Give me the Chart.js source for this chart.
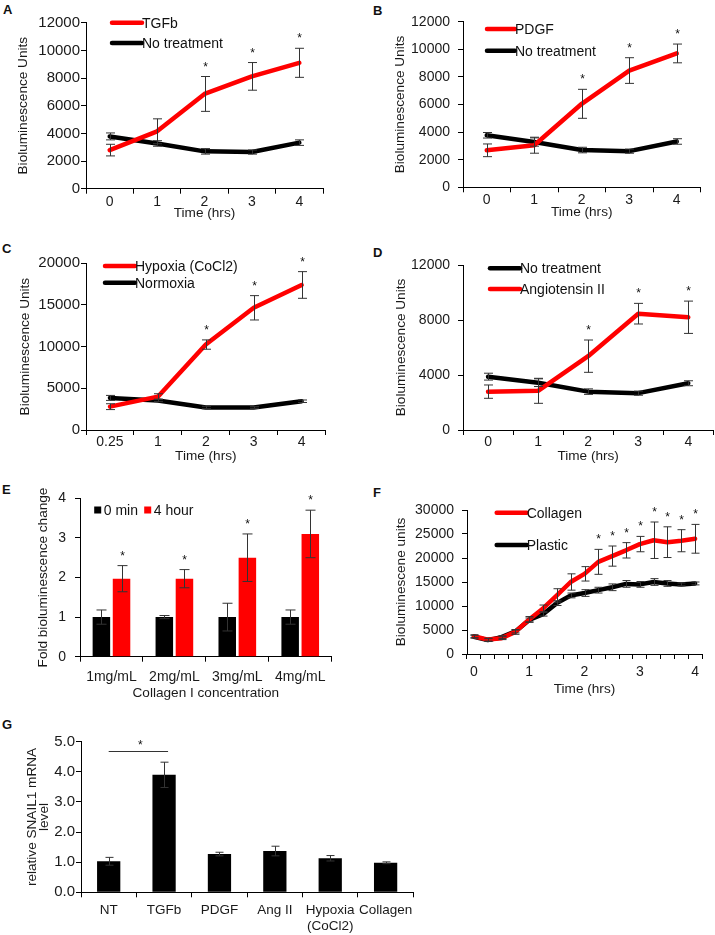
<!DOCTYPE html>
<html>
<head>
<meta charset="utf-8">
<script src="https://cdn.jsdelivr.net/npm/chart.js@4.4.1/dist/chart.umd.min.js"></script>
<style>
  body { margin: 0; background: #fff; }
  #fig { position: relative; width: 715px; height: 935px; overflow: hidden; font-family: "Liberation Sans", Arial, sans-serif; }
  canvas { position: absolute; }
  .tag { position: absolute; font-weight: bold; font-size: 13px; line-height: 13px; color: #111; }
</style>
</head>
<body>
<div id="fig">
  <div class="tag" style="left:3px;top:3px">A</div>
  <div class="tag" style="left:373px;top:4px">B</div>
  <div class="tag" style="left:2px;top:242px">C</div>
  <div class="tag" style="left:373px;top:246px">D</div>
  <div class="tag" style="left:2px;top:483px">E</div>
  <div class="tag" style="left:373px;top:486px">F</div>
  <div class="tag" style="left:2px;top:718px">G</div>
  <canvas id="chartA" width="335" height="225" style="left:0;top:0"></canvas>
  <canvas id="chartB" width="360" height="225" style="left:355px;top:0"></canvas>
  <canvas id="chartC" width="335" height="225" style="left:0;top:240px"></canvas>
  <canvas id="chartD" width="360" height="225" style="left:355px;top:240px"></canvas>
  <canvas id="chartE" width="345" height="225" style="left:0;top:480px"></canvas>
  <canvas id="chartF" width="360" height="225" style="left:355px;top:480px"></canvas>
  <canvas id="chartG" width="450" height="210" style="left:0;top:725px"></canvas>
</div>
<script>
// A - TGFb
const hoursA = ['0', '1', '2', '3', '4'];
const tgfbMean = [2790, 4150, 6850, 8120, 9100];
const tgfbSem = [420, 900, 1260, 1000, 1050];
const tgfbStar = [0, 0, 1, 1, 1];
const ctrlAMean = [3780, 3270, 2700, 2650, 3330];
const ctrlASem = [250, 200, 200, 150, 200];

// B - PDGF
const pdgfMean = [2680, 3050, 6050, 8460, 9700];
const pdgfSem = [460, 580, 1050, 930, 680];
const pdgfStar = [0, 0, 1, 1, 1];
const ctrlBMean = [3770, 3280, 2700, 2620, 3320];
const ctrlBSem = [200, 300, 200, 150, 200];

// C - hypoxia
const hoursC = ['0.25', '1', '2', '3', '4'];
const hypoxiaMean = [2800, 4000, 10250, 14660, 17400];
const hypoxiaSem = [350, 350, 560, 1460, 1600];
const hypoxiaStar = [0, 0, 1, 1, 1];
const normoxiaMean = [3850, 3550, 2700, 2700, 3450];
const normoxiaSem = [300, 150, 150, 100, 150];

// D - angiotensin
const angMean = [2790, 2850, 5370, 8460, 8200];
const angSem = [485, 910, 1175, 750, 1175];
const angStar = [0, 0, 1, 1, 1];
const ctrlDMean = [3880, 3440, 2790, 2680, 3400];
const ctrlDSem = [250, 280, 200, 150, 180];

// E - collagen concentration
const collagenConc = ['1mg/mL', '2mg/mL', '3mg/mL', '4mg/mL'];
const foldZero = [1, 1, 1, 1];
const foldZeroSem = [0.18, 0.04, 0.35, 0.18];
const foldFour = [1.97, 1.97, 2.5, 3.1];
const foldFourSem = [0.33, 0.23, 0.6, 0.6];
const foldFourStar = [1, 1, 1, 1];

// F - collagen vs plastic
const hoursF = ['0', '0.25', '0.5', '0.75', '1', '1.25', '1.5', '1.75', '2',
  '2.25', '2.5', '2.75', '3', '3.25', '3.5', '3.75', '4'];
const collagenMean = [3700, 3000, 3300, 4600, 7200, 9500, 12200, 15000, 16700,
  19200, 20400, 21600, 22900, 23700, 23300, 23600, 24000];
const collagenSem = [300, 300, 300, 500, 600, 700, 1400, 1700, 1500,
  2600, 2100, 1600, 1600, 3800, 3200, 2300, 3000];
const collagenStar = [0, 0, 0, 0, 0, 0, 0, 0, 0, 1, 1, 1, 1, 1, 1, 1, 1];
const plasticMean = [3600, 2900, 3500, 4700, 7100, 8300, 10600, 12200, 12700,
  13300, 13900, 14600, 14500, 15000, 14700, 14500, 14700];
const plasticSem = [300, 300, 300, 300, 400, 400, 500, 500, 700,
  600, 700, 700, 600, 700, 600, 300, 300];

// G - SNAIL1 mRNA
const treatments = ['NT', 'TGFb', 'PDGF', 'Ang II', ['Hypoxia', '(CoCl2)'], 'Collagen'];
const snailMean = [1.03, 3.9, 1.27, 1.37, 1.13, 0.98];
const snailSem = [0.13, 0.42, 0.06, 0.16, 0.09, 0.03];

const RED = '#ff0000';
const BLACK = '#000000';
const FONT = '"Liberation Sans", Arial, sans-serif';

Chart.defaults.font.family = FONT;
Chart.defaults.color = '#1a1a1a';

const legendPlugin = {
  id: 'panelLegend',
  afterDraw(chart, args, opts) {
    const ctx = chart.ctx, area = chart.chartArea;
    ctx.save();
    ctx.font = '14px ' + FONT;
    ctx.textBaseline = 'middle';
    opts.rows.forEach(row => {
      const ds = chart.data.datasets[row.index];
      const x = area.left + row.x, y = area.top + row.y;
      let textX;
      if (opts.box) {
        ctx.fillStyle = ds.backgroundColor;
        ctx.fillRect(x - 3.5, y - 3.5, 7, 7);
        textX = x + 6;
      } else {
        ctx.strokeStyle = ds.borderColor;
        ctx.lineWidth = 4.5;
        ctx.lineCap = 'round';
        ctx.beginPath();
        ctx.moveTo(x, y);
        ctx.lineTo(x + opts.len, y);
        ctx.stroke();
        textX = x + opts.len;
      }
      ctx.fillStyle = '#111';
      ctx.fillText(ds.label, textX, y + 1);
    });
    ctx.restore();
  }
};

const errorBarPlugin = {
  id: 'errorBars',
  afterDatasetsDraw(chart, args, opts) {
    const ctx = chart.ctx, yScale = chart.scales.y;
    const cap = opts.cap || 4.5;
    chart.data.datasets.forEach((ds, di) => {
      if (!ds.errors) return;
      const meta = chart.getDatasetMeta(di);
      ctx.save();
      ctx.strokeStyle = '#333';
      ctx.lineWidth = 1;
      ctx.fillStyle = '#111';
      ctx.font = '12px ' + FONT;
      ctx.textAlign = 'center';
      meta.data.forEach((el, i) => {
        const v = ds.data[i], e = ds.errors[i];
        const x = Math.round(el.x) + 0.5;
        const top = yScale.getPixelForValue(v + e);
        const bot = yScale.getPixelForValue(v - e);
        ctx.beginPath();
        ctx.moveTo(x, top); ctx.lineTo(x, bot);
        ctx.moveTo(x - cap, top); ctx.lineTo(x + cap, top);
        ctx.moveTo(x - cap, bot); ctx.lineTo(x + cap, bot);
        ctx.stroke();
        if (ds.stars && ds.stars[i]) {
          ctx.fillText('*', x, top - 6);
        }
      });
      ctx.restore();
    });
  }
};

const sigPlugin = {
  id: 'sigBar',
  afterDatasetsDraw(chart, args, opts) {
    const ctx = chart.ctx, meta = chart.getDatasetMeta(0), yScale = chart.scales.y;
    const x1 = meta.data[opts.from].x, x2 = meta.data[opts.to].x + 4;
    const y = Math.round(yScale.getPixelForValue(opts.value)) + 0.5;
    ctx.save();
    ctx.strokeStyle = '#333';
    ctx.lineWidth = 1;
    ctx.beginPath();
    ctx.moveTo(x1, y); ctx.lineTo(x2, y);
    ctx.stroke();
    ctx.fillStyle = '#111';
    ctx.font = '12px ' + FONT;
    ctx.textAlign = 'center';
    ctx.fillText('*', (x1 + x2) / 2 + 2, y - 3);
    ctx.restore();
  }
};

function lineSet(label, color, data, errors, stars) {
  return {
    label: label, data: data, errors: errors, stars: stars,
    borderColor: color, backgroundColor: color, borderWidth: 4.5,
    pointRadius: 0, tension: 0, fill: false,
    borderCapStyle: 'round', borderJoinStyle: 'round'
  };
}

function categoryLabel(value) {
  return this.getLabelForValue(value);
}

function buildPanel(id, type, labels, datasets, p) {
  return new Chart(document.getElementById(id), {
    type: type,
    data: { labels: labels, datasets: datasets },
    options: {
      responsive: false,
      animation: false,
      events: [],
      layout: { padding: { top: p.top, right: p.right, bottom: 0, left: 0 } },
      plugins: {
        legend: { display: false },
        tooltip: { enabled: false },
        panelLegend: p.legend || false,
        errorBars: p.err || {},
        sigBar: p.sig || false
      },
      scales: {
        x: {
          type: 'category',
          offset: true,
          grid: { drawOnChartArea: false, offset: true, tickLength: 5, color: '#000' },
          border: { color: '#000' },
          ticks: {
            autoSkip: false, maxRotation: 0, padding: p.xPad,
            font: { size: p.xFont || 14, lineHeight: p.xLine || 1 },
            callback: p.xCallback || categoryLabel
          },
          title: {
            display: !!p.xTitle, text: p.xTitle, font: { size: 13.6 },
            padding: { top: 0, bottom: p.xTitlePad }
          },
          afterFit: s => { s.height = p.xH; }
        },
        y: {
          min: 0, max: p.yMax,
          grid: { drawOnChartArea: false, tickLength: 5, color: '#000' },
          border: { color: '#000' },
          ticks: {
            stepSize: p.yStep, padding: p.yPad,
            font: { size: p.yFont || 14 },
            callback: p.yCallback || (v => String(v))
          },
          title: {
            display: true, text: p.yTitle,
            font: { size: 13.6, lineHeight: p.yTitleLine || 1.2 },
            padding: { top: p.yTitlePad, bottom: 0 }
          },
          afterFit: s => { s.width = p.yW; }
        }
      }
    },
    plugins: [legendPlugin, errorBarPlugin, sigPlugin]
  });
}

buildPanel('chartA', 'line', hoursA, [
  lineSet('TGFb', RED, tgfbMean, tgfbSem, tgfbStar),
  lineSet('No treatment', BLACK, ctrlAMean, ctrlASem)
], {
  top: 22.7, right: 12, yW: 86, xH: 36.3, yMax: 12000, yStep: 2000, yPad: 1, yFont: 15,
  xPad: 1, xTitle: 'Time (hrs)', xTitlePad: 3.8,
  yTitle: 'Bioluminescence Units', yTitlePad: 14.8,
  legend: { len: 30, rows: [{ index: 0, x: 26, y: 0 }, { index: 1, x: 26, y: 20.3 }] }
});

buildPanel('chartB', 'line', hoursA, [
  lineSet('PDGF', RED, pdgfMean, pdgfSem, pdgfStar),
  lineSet('No treatment', BLACK, ctrlBMean, ctrlBSem)
], {
  top: 21.7, right: 14.5, yW: 108, xH: 37.7, yMax: 12000, yStep: 2000, yPad: 8,
  xPad: 1, xTitle: 'Time (hrs)', xTitlePad: 4.3,
  yTitle: 'Bioluminescence Units', yTitlePad: 36.8,
  legend: { len: 28, rows: [{ index: 0, x: 24, y: 7.3 }, { index: 1, x: 24, y: 29 }] }
});

buildPanel('chartC', 'line', hoursC, [
  lineSet('Hypoxia (CoCl2)', RED, hypoxiaMean, hypoxiaSem, hypoxiaStar),
  lineSet('Normoxia', BLACK, normoxiaMean, normoxiaSem)
], {
  top: 23.3, right: 9.4, yW: 86, xH: 35, yMax: 20000, yStep: 5000, yPad: 1, yFont: 15,
  xPad: 0, xTitle: 'Time (hrs)', xTitlePad: 0.8,
  yTitle: 'Bioluminescence Units', yTitlePad: 16.8,
  legend: { len: 30, rows: [{ index: 0, x: 19, y: 2.7 }, { index: 1, x: 19, y: 19.4 }] }
});

buildPanel('chartD', 'line', hoursA, [
  lineSet('Angiotensin II', RED, angMean, angSem, angStar),
  lineSet('No treatment', BLACK, ctrlDMean, ctrlDSem)
], {
  top: 25, right: 1.7, yW: 108, xH: 35, yMax: 12000, yStep: 4000, yPad: 8,
  xPad: 0, xTitle: 'Time (hrs)', xTitlePad: 0.8,
  yTitle: 'Bioluminescence Units', yTitlePad: 37.8,
  legend: { len: 30, rows: [{ index: 1, x: 27, y: 3.3 }, { index: 0, x: 27, y: 24 }] }
});

buildPanel('chartE', 'bar', collagenConc, [
  { label: '0 min', data: foldZero, errors: foldZeroSem, backgroundColor: BLACK,
    categoryPercentage: 0.64, barPercentage: 0.87 },
  { label: '4 hour', data: foldFour, errors: foldFourSem, stars: foldFourStar, backgroundColor: RED,
    categoryPercentage: 0.64, barPercentage: 0.87 }
], {
  top: 18.3, right: 13.3, yW: 80, xH: 48.3, yMax: 4, yStep: 1, yPad: 9,
  xPad: 8, xTitle: 'Collagen I concentration', xTitlePad: 3.9,
  yTitle: 'Fold bioluminescence change', yTitlePad: 34.8,
  err: { cap: 5 },
  legend: { box: true, rows: [{ index: 0, x: 17.7, y: 11.7 }, { index: 1, x: 67.7, y: 11.7 }] }
});

buildPanel('chartF', 'line', hoursF, [
  lineSet('Collagen', RED, collagenMean, collagenSem, collagenStar),
  lineSet('Plastic', BLACK, plasticMean, plasticSem)
], {
  top: 30, right: 13, yW: 112, xH: 51, yMax: 30000, yStep: 5000, yPad: 8,
  xPad: 5.7, xTitle: 'Time (hrs)', xTitlePad: 7.8,
  xCallback: function (value) {
    const lab = this.getLabelForValue(value);
    return Number.isInteger(Number(lab)) ? lab : '';
  },
  yTitle: 'Bioluminescene units', yTitlePad: 37.8,
  err: { cap: 4 },
  legend: { len: 30, rows: [{ index: 0, x: 29.7, y: 2.7 }, { index: 1, x: 29.7, y: 35 }] }
});

buildPanel('chartG', 'bar', treatments, [
  { label: 'SNAIL1', data: snailMean, errors: snailSem, backgroundColor: BLACK,
    categoryPercentage: 1, barPercentage: 0.42 }
], {
  top: 16.7, right: 36.7, yW: 81, xH: 42.7, yMax: 5, yStep: 1, yPad: 1, yFont: 15,
  yCallback: v => v.toFixed(1),
  xPad: 4.3, xFont: 13.5, xLine: 1.24, xTitle: '', xTitlePad: 0,
  yTitle: ['relative SNAIL1 mRNA', 'level'], yTitleLine: '12px', yTitlePad: 26.5,
  err: { cap: 4 },
  sig: { from: 0, to: 1, value: 4.69 }
});
</script>
</body>
</html>
